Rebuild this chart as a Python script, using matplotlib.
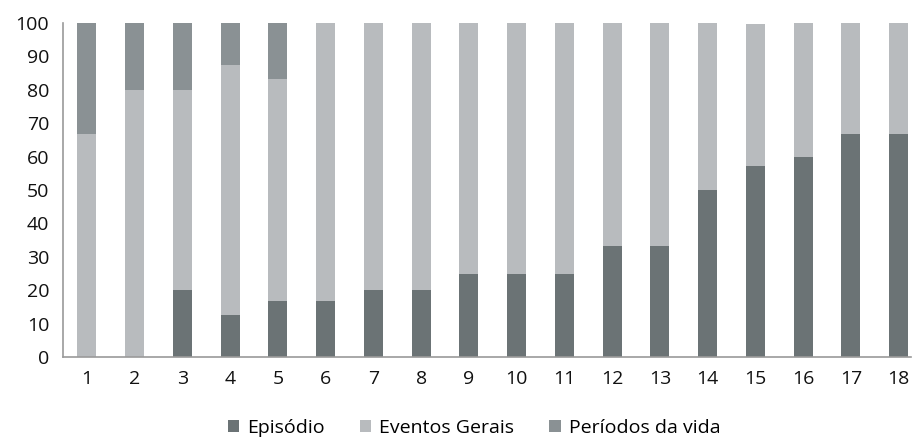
import matplotlib
matplotlib.use("Agg")
import matplotlib.pyplot as plt
import numpy as np

plt.rcParams['font.family'] = ['Open Sans', 'DejaVu Sans']

categories = [str(i) for i in range(1, 19)]
episodio = [0, 0, 20, 12.5, 16.7, 16.7, 20, 20, 25, 25, 25, 33.3, 33.3, 50, 57.1, 60, 66.7, 66.7]
eventos_gerais = [66.7, 80, 60, 75, 66.6, 83.3, 80, 80, 75, 75, 75, 66.7, 66.7, 50, 42.6, 40, 33.3, 33.3]
periodos_vida = [33.3, 20, 20, 12.5, 16.7, 0, 0, 0, 0, 0, 0, 0, 0, 0, 0, 0, 0, 0]
series_names = ['Episódio', 'Eventos Gerais', 'Períodos da vida']
colors = ['#6b7375', '#b8bbbe', '#8a9194']

fig = plt.figure(figsize=(9.13, 4.42), dpi=100)
ax = fig.add_axes([63/913, 1-357/442, (911-63)/913, (357-23)/442])

x = np.arange(1, len(categories) + 1)
w = 0.4
b1 = ax.bar(x, episodio, w, color=colors[0], label=series_names[0])
b2 = ax.bar(x, eventos_gerais, w, bottom=episodio, color=colors[1], label=series_names[1])
bottom2 = np.array(episodio) + np.array(eventos_gerais)
b3 = ax.bar(x, periodos_vida, w, bottom=bottom2, color=colors[2], label=series_names[2])

ax.set_xlim(0.5, 18.26)
ax.set_ylim(0, 100)
ax.set_yticks(range(0, 101, 10))
ax.set_xticks(x)
ax.set_xticklabels(categories)
ax.tick_params(axis='both', length=0, labelsize=14, colors='#111111')
ax.tick_params(axis='x', pad=9)
ax.tick_params(axis='y', pad=10)
for s in ['top', 'right']:
    ax.spines[s].set_visible(False)
for s in ['left', 'bottom']:
    ax.spines[s].set_color('#9a9a9a')
    ax.spines[s].set_linewidth(1.2)

fig.legend(handles=[b1, b2, b3], labels=series_names, loc='center', bbox_to_anchor=(474/913, 1-428/442),
           ncol=3, frameon=False, fontsize=14, handlelength=0.6, handleheight=0.6,
           handletextpad=0.4, columnspacing=1.8)

fig.savefig('out.png', dpi=100)
